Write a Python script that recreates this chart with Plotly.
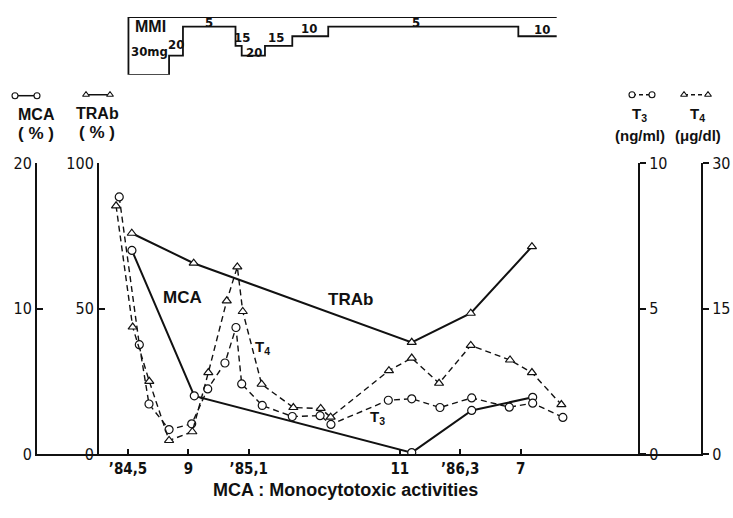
import plotly.graph_objects as go

W, H = 733, 518

# ---------------- data (x = months since Jan 1984) ----------------
xtick_vals = [4, 8, 12, 22, 26, 30]
xtick_text = ["\u201984,5", "9", "\u201985,1", "11", "\u201986,3", "7"]

mca_t = [4.26, 8.39, 22.79, 26.76, 30.8]
mca_v = [14.0, 4.0, 0.1, 3.0, 3.9]

trab_t = [4.25, 8.35, 22.79, 26.7, 30.75]
trab_v = [75.9, 65.6, 38.4, 48.4, 71.3]

t3_t = [3.42, 4.75, 5.39, 6.72, 8.22, 9.28, 10.42, 11.15, 11.53, 12.89,
        14.88, 16.72, 17.44, 21.24, 22.79, 24.66, 26.76, 29.25, 30.8, 32.8]
t3_v = [8.84, 3.76, 1.72, 0.84, 1.04, 2.24, 3.13, 4.35, 2.41, 1.67,
        1.29, 1.32, 1.02, 1.85, 1.90, 1.60, 1.93, 1.61, 1.75, 1.26]

t4_t = [3.21, 4.31, 5.41, 6.72, 8.26, 9.32, 10.54, 11.24, 11.6, 12.85,
        14.95, 16.76, 17.42, 21.28, 22.79, 24.6, 26.7, 29.3, 30.75, 32.7]
t4_v = [25.6, 13.1, 7.5, 1.4, 2.3, 8.4, 15.8, 19.3, 14.7, 7.2,
        4.8, 4.7, 3.8, 8.6, 9.9, 7.3, 11.2, 9.7, 8.4, 5.1]

mmi_t = [4.03, 6.72, 7.64, 11.12, 11.53, 13.07, 14.88, 17.26, 29.85, 32.39]
mmi_dose = [30, 20, 5, 15, 20, 15, 10, 5, 10, 10]
mmi_labels = ["30mg", "20", "5", "15", "20", "15", "10", "5", "10"]

# ---------------- layout helpers ----------------
def px_x(p):
    return p / W

def px_y(p):
    return 1 - p / H

PX_PER_MONTH = 15.1
X0_PX, X1_PX = 37, 701
x_range = [4 + (X0_PX - 128) / PX_PER_MONTH, 4 + (X1_PX - 128) / PX_PER_MONTH]
x_dom = [px_x(X0_PX), px_x(X1_PX)]
y_dom = [px_y(462), px_y(160)]

NARROW = "DejaVu Sans Condensed, Liberation Sans, sans-serif"
SANS = "Liberation Sans, Arial, sans-serif"
BLACK = "#111111"
CLEAR = "rgba(0,0,0,0)"

fig = go.Figure()

circle = dict(symbol="circle", size=8, color="white", line=dict(color=BLACK, width=1.2))
tri = dict(symbol="triangle-up", size=8, color="white", line=dict(color=BLACK, width=1.2))

fig.add_trace(go.Scatter(x=t4_t, y=t4_v, yaxis="y4", mode="lines+markers",
                         line=dict(color=BLACK, width=1.4, dash="6px,4px"), marker=tri))
fig.add_trace(go.Scatter(x=t3_t, y=t3_v, yaxis="y3", mode="lines+markers",
                         line=dict(color=BLACK, width=1.4, dash="6px,4px"), marker=circle))
fig.add_trace(go.Scatter(x=trab_t, y=trab_v, yaxis="y2", mode="lines+markers",
                         line=dict(color=BLACK, width=2), marker=tri))
fig.add_trace(go.Scatter(x=mca_t, y=mca_v, yaxis="y", mode="lines+markers",
                         line=dict(color=BLACK, width=2), marker=circle))

# MMI dose schedule (step chart in its own strip, framed by a zero line)
fig.add_trace(go.Scatter(x=[mmi_t[-1], mmi_t[0]] + mmi_t, y=[0, 0] + mmi_dose,
                         xaxis="x2", yaxis="y5", mode="lines", line_shape="hv",
                         line=dict(color=BLACK, width=1.8)))

# legend glyphs in the header (pixel overlay)
glyphs = [
    ([15, 37], [90, 90], "solid", "circle"),
    ([86, 110], [89, 89], "solid", "triangle-up"),
    ([632, 652], [89, 89], "dash", "circle"),
    ([684, 708], [89, 89], "dash", "triangle-up"),
]
for gx, gy, dash, sym in glyphs:
    fig.add_trace(go.Scatter(x=gx, y=gy, xaxis="x3", yaxis="y6", mode="lines+markers",
                             line=dict(color=BLACK, width=1.5, dash="4px,3px" if dash == "dash" else "solid"),
                             marker=dict(symbol=sym, size=6, color="white",
                                         line=dict(color=BLACK, width=1.1))))

ytickfont = dict(family=NARROW, size=16, color=BLACK)
xtickfont = dict(family=NARROW, size=15, color=BLACK)

def yax(rng, vals, ticks, **kw):
    d = dict(domain=y_dom, range=rng, tickvals=vals, ticks=ticks, ticklen=6,
             showgrid=False, zeroline=False, showline=True,
             linecolor=BLACK, linewidth=2, tickcolor=BLACK, tickwidth=2,
             tickfont=ytickfont, tickprefix="<b>", ticksuffix="</b>")
    d.update(kw)
    return d

fig.update_layout(
    width=W, height=H,
    margin=dict(l=0, r=0, t=0, b=0),
    paper_bgcolor="white", plot_bgcolor=CLEAR,
    showlegend=False,
    xaxis=dict(domain=x_dom, range=x_range, anchor="y", showgrid=False, zeroline=False,
               showline=True, linecolor=BLACK, linewidth=2,
               ticks="inside", ticklen=5, tickwidth=1.5, tickcolor=BLACK,
               tickvals=xtick_vals, ticktext=["<b>%s</b>" % t for t in xtick_text],
               tickfont=xtickfont),
    yaxis=yax([0, 20], [0, 10, 20], "inside", anchor="x", side="left"),
    yaxis2=yax([0, 100], [0, 50, 100], "inside", overlaying="y", anchor="free",
               position=px_x(98), side="left"),
    yaxis3=yax([0, 10], [0, 5, 10], "outside", overlaying="y", anchor="free",
               position=px_x(639), side="right"),
    yaxis4=yax([0, 30], [0, 15, 30], "outside", overlaying="y", anchor="x", side="right"),
    xaxis2=dict(domain=x_dom, range=x_range, anchor="y5", visible=False),
    yaxis5=dict(domain=[px_y(68.3), px_y(8.3)], range=[30, 0], anchor="x2", visible=False),
    xaxis3=dict(domain=[0, 1], range=[0, W], anchor="y6", visible=False),
    yaxis6=dict(domain=[0, 1], range=[H, 0], anchor="x3", visible=False),
)

def note(text, x, y, size, family=SANS):
    fig.add_annotation(text="<b>%s</b>" % text, x=px_x(x), y=px_y(y), xref="paper", yref="paper",
                       xanchor="center", yanchor="middle", showarrow=False,
                       font=dict(family=family, size=size, color=BLACK))

# header axis titles
note("MCA", 36, 109, 16)
note("( % )", 36, 129, 17)
note("TRAb", 97, 108, 16)
note("( % )", 97, 128, 17)
note("T<sub>3</sub>", 639, 110, 15)
note("(ng/ml)", 640, 131, 15)
note("T<sub>4</sub>", 697, 110, 15)
note("(\u03bcg/dl)", 698, 131, 15)

# in-plot series labels
note("MCA", 182, 300, 17)
note("TRAb", 350, 302, 17)
note("T<sub>4</sub>", 262, 351, 15)
note("T<sub>3</sub>", 377, 424, 15)

# x-axis title
note("MCA : Monocytotoxic activities", 345, 499, 18)

# MMI labels
note("MMI", 150, 18, 16)
mmi_pos = [(149, 44, 13), (176, 37, 13), (209, 14, 13), (242, 30, 13), (254, 45, 13),
           (276, 30, 13), (309, 20, 13), (416, 14, 13), (542, 21, 13)]
for lab, (lx, ly, ls) in zip(mmi_labels, mmi_pos):
    note(lab, lx, ly, ls, family=NARROW)

fig.write_html("out.html")
